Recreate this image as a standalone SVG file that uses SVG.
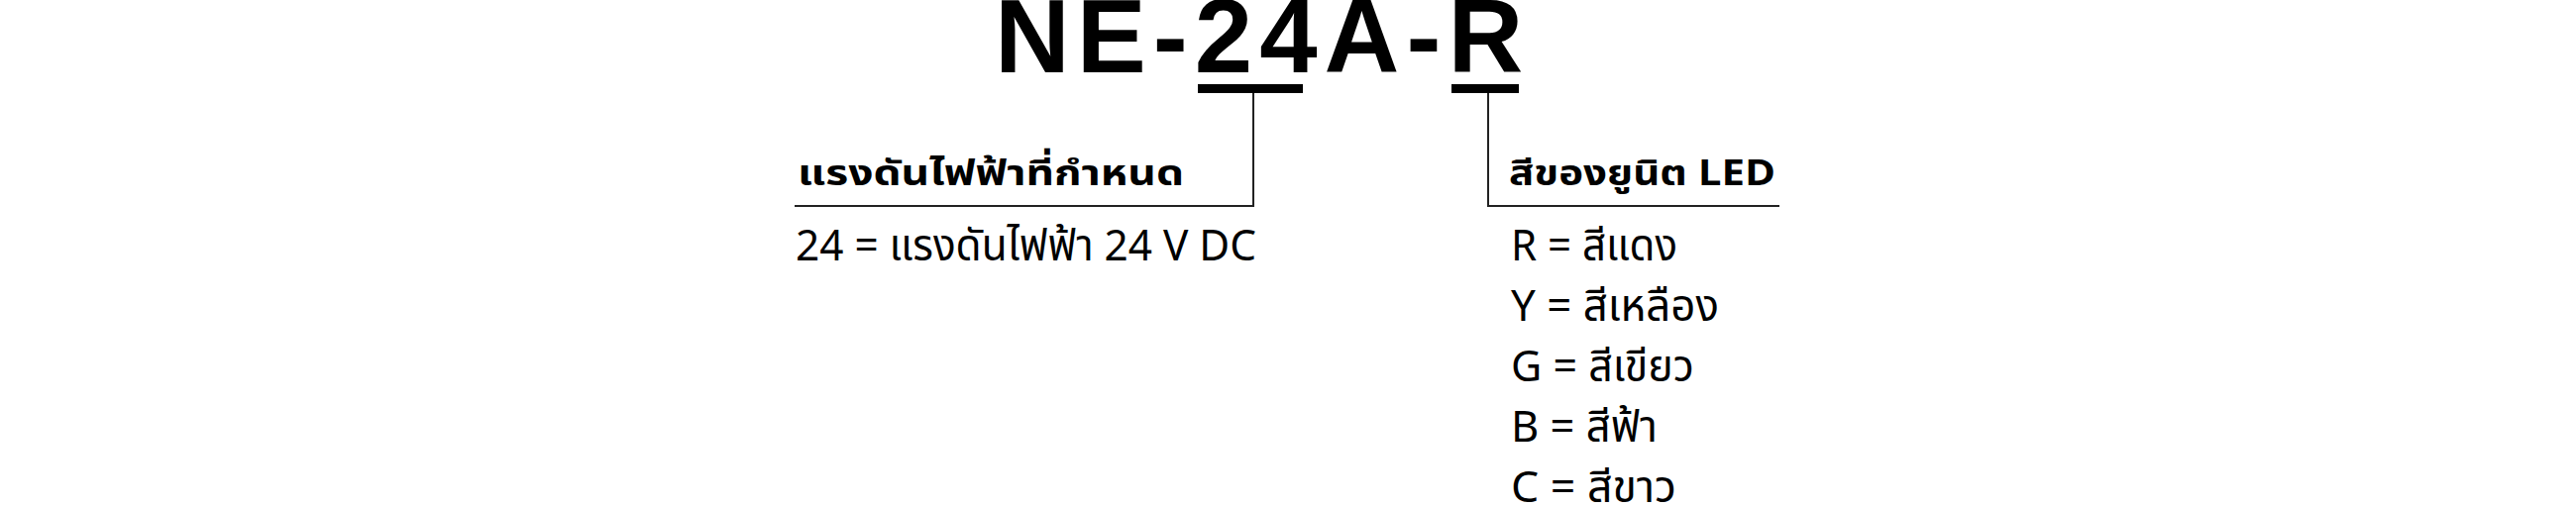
<svg xmlns="http://www.w3.org/2000/svg" width="2600" height="512" viewBox="0 0 2600 512">
<style>
.title{font-family:"Liberation Sans",Arial,sans-serif;font-weight:bold;font-size:105px;letter-spacing:7px;fill:#000}
.head{font-family:Tahoma,"Noto Sans Thai","Noto Sans","DejaVu Sans",sans-serif;font-weight:bold;font-size:36px;fill:#000}
.body{font-family:Tahoma,"Noto Sans Thai","Noto Sans","DejaVu Sans",sans-serif;font-size:44px;fill:#000}
.bar{fill:#000}
.ln{stroke:#222;stroke-width:2;fill:none}
</style>
<rect width="2600" height="512" fill="#fff"/>
<g id="title">
<text class="title" x="1004" y="73">NE-24A-R</text>
</g>
<g id="connectors">
<rect class="bar" x="1209" y="85" width="106" height="9"/>
<rect class="bar" x="1465" y="85" width="68" height="9"/>
<polyline class="ln" points="1265,94 1265,208 802,208"/>
<polyline class="ln" points="1502,94 1502,208 1796,208"/>
</g>
<g id="voltage">
<text class="head" x="805" y="187" textLength="390" lengthAdjust="spacingAndGlyphs">แรงดันไฟฟ้าที่กำหนด</text>
<text class="body" x="803" y="263" textLength="465" lengthAdjust="spacingAndGlyphs">24 = แรงดันไฟฟ้า 24 V DC</text>
</g>
<g id="led-color">
<text class="head" x="1523" y="187" textLength="269" lengthAdjust="spacingAndGlyphs">สีของยูนิต LED</text>
<text class="body" x="1525" y="263" textLength="168" lengthAdjust="spacingAndGlyphs">R = สีแดง</text>
<text class="body" x="1525" y="324" textLength="210" lengthAdjust="spacingAndGlyphs">Y = สีเหลือง</text>
<text class="body" x="1525" y="385" textLength="185" lengthAdjust="spacingAndGlyphs">G = สีเขียว</text>
<text class="body" x="1525" y="446" textLength="148" lengthAdjust="spacingAndGlyphs">B = สีฟ้า</text>
<text class="body" x="1525" y="507" textLength="167" lengthAdjust="spacingAndGlyphs">C = สีขาว</text>
</g>
</svg>
